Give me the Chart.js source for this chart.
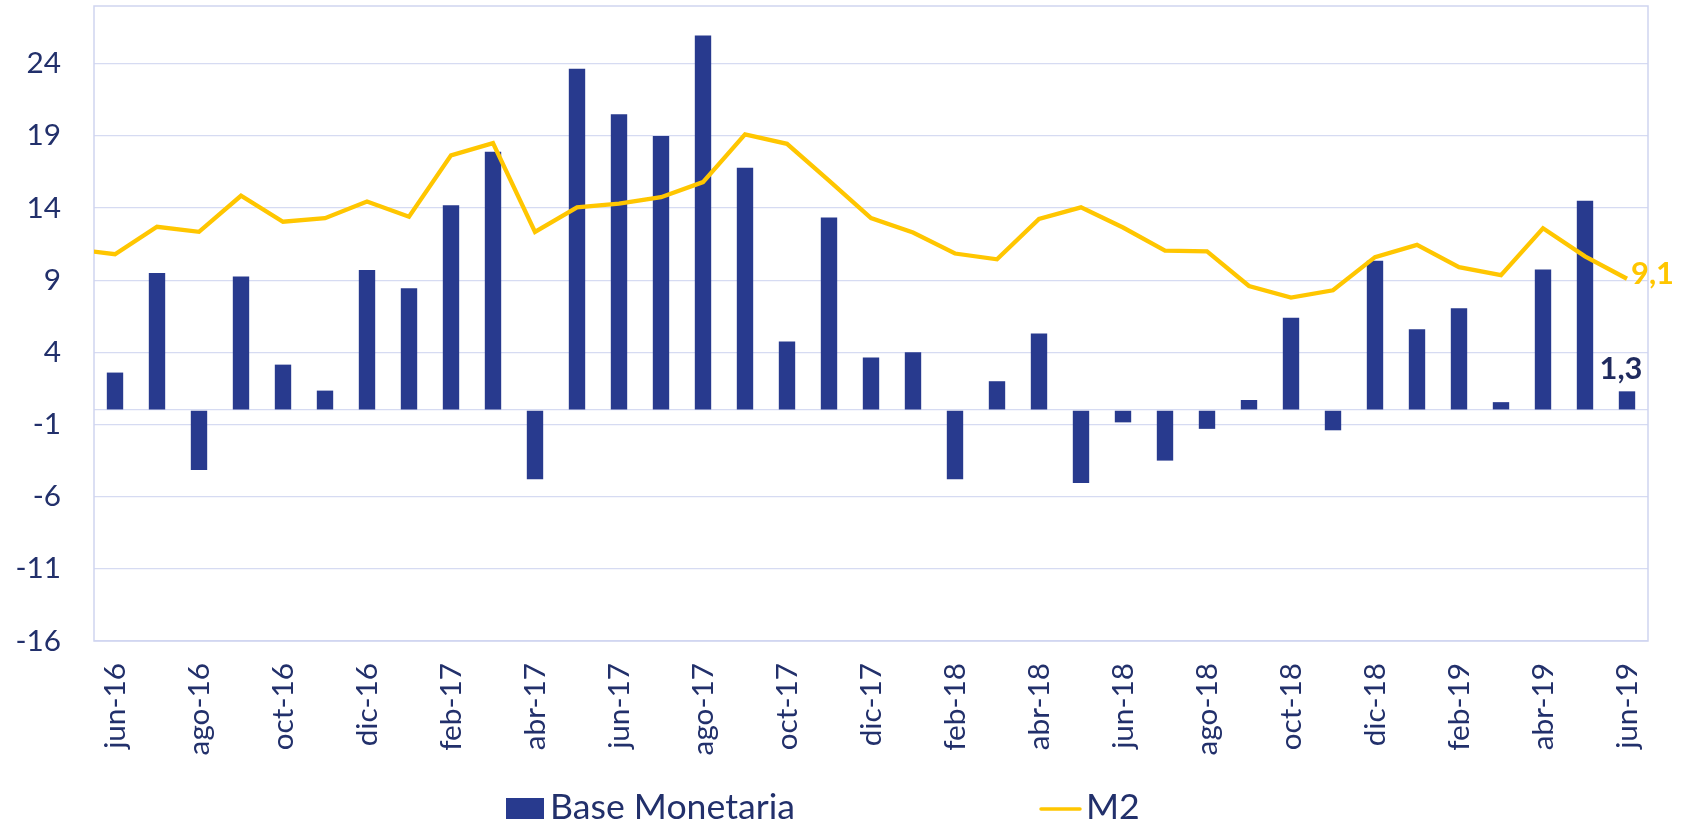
<!DOCTYPE html>
<html><head><meta charset="utf-8">
<script src="https://cdn.jsdelivr.net/npm/chart.js@4.4.1/dist/chart.umd.min.js"></script>
<style>html,body{margin:0;padding:0;background:#fff;overflow:hidden}#wrap{position:relative;width:1690px;height:826px}</style>
</head><body><div id="wrap"><canvas id="c" width="1690" height="826"></canvas></div>
<script>
// categories (may-16 only feeds the clipped start of the M2 line)
const months = ['may-16','jun-16','jul-16','ago-16','sep-16','oct-16','nov-16','dic-16',
  'ene-17','feb-17','mar-17','abr-17','may-17','jun-17','jul-17','ago-17','sep-17','oct-17','nov-17','dic-17',
  'ene-18','feb-18','mar-18','abr-18','may-18','jun-18','jul-18','ago-18','sep-18','oct-18','nov-18','dic-18',
  'ene-19','feb-19','mar-19','abr-19','may-19','jun-19'];
const firstShown = 'jun-16';
const baseMonetaria = [null, 2.6, 9.5, -4.15, 9.25, 3.15, 1.35, 9.7,
  8.45, 14.2, 17.9, -4.8, 23.65, 20.5, 19.0, 25.95, 16.8, 4.75, 13.35, 3.65,
  4.0, -4.8, 2.0, 5.3, -5.05, -0.85, -3.5, -1.3, 0.7, 6.4, -1.4, 10.35,
  5.6, 7.05, 0.55, 9.75, 14.5, 1.3];
const m2 = [11.15, 10.8, 12.7, 12.35, 14.85, 13.05, 13.3, 14.45,
  13.4, 17.65, 18.5, 12.35, 14.05, 14.3, 14.75, 15.8, 19.1, 18.45, 15.9, 13.3,
  12.3, 10.85, 10.45, 13.25, 14.05, 12.65, 11.05, 11.0, 8.6, 7.8, 8.3, 10.6,
  11.45, 9.9, 9.35, 12.6, 10.65, 9.1];
const yTicks = [-16, -11, -6, -1, 4, 9, 14, 19, 24];
const yMin = -16, yMax = 28, axisLineValue = 0;

const BAR = '#283A8E', GOLD = '#FFC600', NAVY = '#22306B', GRID = '#D6DBF2', FRAME = '#CFD5F0';
const FAMILY = 'Lato, "Open Sans", sans-serif';
function fitSize(text, width, weight) {
  const c = document.createElement('canvas').getContext('2d');
  c.font = (weight || 'normal') + ' 100px ' + FAMILY;
  return 100 * width / c.measureText(text).width;
}
const tickSize = fitSize('24', 34.5);
const legendSize = fitSize('Base Monetaria', 245);
const labelSize = fitSize('9,1', 43, 'bold');
const fmt = v => v.toFixed(1).replace('.', ',');
function noPad(s) { s.paddingTop = 0; s.paddingBottom = 0; s.paddingLeft = 0; s.paddingRight = 0; }

const framePlugin = {
  id: 'frame',
  beforeDatasetsDraw(chart) {
    const {ctx, chartArea: a} = chart;
    ctx.save(); ctx.strokeStyle = FRAME; ctx.lineWidth = 1.5;
    ctx.strokeRect(a.left, a.top, a.right - a.left, a.bottom - a.top);
    ctx.restore();
  }
};
const valueLabels = {
  id: 'valueLabels',
  afterDatasetsDraw(chart) {
    const ctx = chart.ctx;
    const n = months.length - 1;
    const bar = chart.getDatasetMeta(0).data[n];
    const pt = chart.getDatasetMeta(1).data[n];
    ctx.save();
    ctx.font = 'bold ' + labelSize + 'px ' + FAMILY;
    ctx.fillStyle = GOLD; ctx.textAlign = 'left'; ctx.textBaseline = 'middle';
    ctx.fillText(fmt(m2[n]), pt.x + 4, pt.y - 5);
    ctx.fillStyle = '#1F2A5E'; ctx.textAlign = 'center'; ctx.textBaseline = 'alphabetic';
    ctx.fillText(fmt(baseMonetaria[n]), bar.x - 6, bar.y - 12);
    ctx.restore();
  }
};
const legendPlugin = {
  id: 'customLegend',
  afterDraw(chart) {
    const ctx = chart.ctx;
    const ds = chart.data.datasets;
    ctx.save();
    ctx.font = legendSize + 'px ' + FAMILY;
    ctx.textBaseline = 'alphabetic'; ctx.textAlign = 'left';
    ctx.fillStyle = ds[0].backgroundColor;
    ctx.fillRect(506, 798, 38, 21);
    ctx.fillStyle = NAVY;
    ctx.fillText(ds[0].label, 550, 819);
    ctx.strokeStyle = ds[1].borderColor; ctx.lineWidth = 3.5; ctx.lineCap = 'round';
    ctx.beginPath(); ctx.moveTo(1041, 809); ctx.lineTo(1080, 809); ctx.stroke();
    ctx.fillStyle = NAVY;
    ctx.fillText(ds[1].label, 1086, 819);
    ctx.restore();
  }
};

new Chart(document.getElementById('c'), {
  data: {
    labels: months,
    datasets: [
      {type: 'bar', label: 'Base Monetaria', data: baseMonetaria, backgroundColor: BAR,
       barPercentage: 0.39, categoryPercentage: 1, order: 2},
      {type: 'line', label: 'M2', data: m2, borderColor: GOLD, borderWidth: 4.3, pointRadius: 0,
       tension: 0, fill: false, order: 1}
    ]
  },
  options: {
    responsive: false, animation: false,
    layout: {padding: {left: 0, right: 42, top: 6, bottom: 55}},
    plugins: {legend: {display: false}, tooltip: {enabled: false}},
    scales: {
      x: {
        type: 'category', min: firstShown, offset: true,
        grid: {display: false, drawTicks: false}, border: {display: false},
        ticks: {autoSkip: false, maxRotation: 90, minRotation: 90, padding: 22, color: NAVY,
          font: {size: tickSize, family: FAMILY},
          callback(v, i) { return i % 2 === 0 ? this.getLabelForValue(v) : ''; }},
        afterFit(s) { s.height = 130; noPad(s); }
      },
      y: {
        min: yMin, max: yMax,
        afterBuildTicks(s) { s.ticks = yTicks.concat([axisLineValue]).sort((a, b) => a - b).map(v => ({value: v})); },
        ticks: {padding: 33, color: NAVY, font: {size: tickSize, family: FAMILY},
          callback: v => yTicks.includes(v) ? String(v) : ''},
        grid: {color: GRID, lineWidth: 1.3, drawTicks: false}, border: {display: false},
        afterFit(s) { s.width = 94; noPad(s); }
      }
    }
  },
  plugins: [framePlugin, valueLabels, legendPlugin]
});
</script></body></html>
